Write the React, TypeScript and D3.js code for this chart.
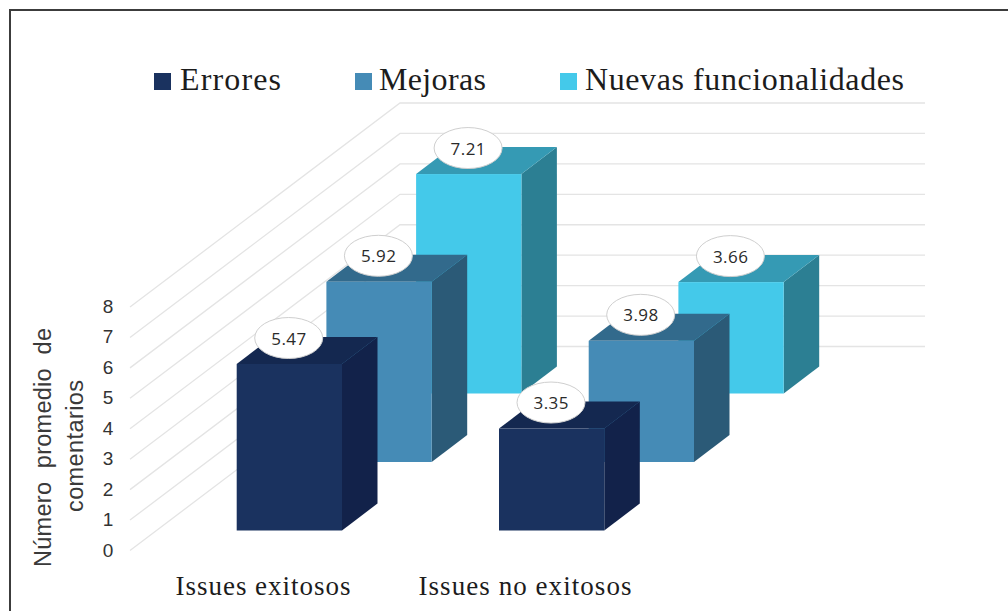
import React from "react";
import * as d3 from "d3";

// Average comment counts per issue outcome and issue type
const outcomes = ["Issues exitosos", "Issues no exitosos"];
const seriesNames = ["Errores", "Mejoras", "Nuevas funcionalidades"];
const errores = [5.47, 3.35];
const mejoras = [5.92, 3.98];
const nuevas = [7.21, 3.66];
const seriesValues = [errores, mejoras, nuevas];
const yTicks = [0, 1, 2, 3, 4, 5, 6, 7, 8];

const front = ["#1a325f", "#458bb6", "#44c9ea"];
const side = ["#12224a", "#2b5a77", "#2c7f93"];
const top = ["#142850", "#326a8c", "#359ab4"];

const W = 1008;
const H = 611;
const SERIF = "'Liberation Serif', serif";
const SANS = "'Liberation Sans', sans-serif";

// Depth projection: one step back along the floor moves up and to the right
const stepX = 89.7;
const stepY = -68.5;
const depthX = 35.5;
const depthY = -27;
const barW = 105.3;
const floorY = 530.5;

const unit = d3.scaleLinear().domain([0, 8]).range([0, -243.5]);
const groupX = d3.scalePoint<number>().domain([0, 1]).range([236.7, 499]);

const pts = (p: [number, number][]) => d3.line()(p) + "Z";

export default function App() {
  const wallBaseY = 346.5;
  const wallLeftX = 400;
  const wallRightX = 925;
  const gridDx = 270;
  const gridDy = 204;

  const bars = seriesValues
    .flatMap((vals, s) =>
      vals.map((v, g) => {
        const x0 = groupX(g)! + s * stepX;
        const y0 = floorY + s * stepY;
        const yt = y0 + unit(v);
        return { s, g, v, x0, y0, yt };
      })
    )
    .sort((a, b) => b.s - a.s || a.g - b.g);

  return (
    <svg
      width={W}
      height={H}
      viewBox={`0 0 ${W} ${H}`}
      style={{ position: "absolute", left: 0, top: 0, background: "#fff" }}
    >
      <rect x={10} y={10} width={1020} height={640} fill="#fff" stroke="#3c3c3c" strokeWidth={2} />

      {yTicks.map((t) => {
        const y = wallBaseY + unit(t);
        return (
          <g key={t}>
            <path
              d={pts([[wallLeftX - gridDx, y + gridDy], [wallLeftX, y], [wallRightX, y]]).slice(0, -1)}
              fill="none"
              stroke="#e4e4e4"
              strokeWidth={1.3}
            />
            <text
              x={108}
              y={y + gridDy - 0.5}
              textAnchor="middle"
              dominantBaseline="central"
              fontFamily={SANS}
              fontSize={19}
              fill="#333"
            >
              {t}
            </text>
          </g>
        );
      })}

      {bars.map((b) => (
        <g key={`${b.s}-${b.g}`}>
          <path
            d={pts([
              [b.x0 + barW, b.yt],
              [b.x0 + barW + depthX, b.yt + depthY],
              [b.x0 + barW + depthX, b.y0 + depthY],
              [b.x0 + barW, b.y0],
            ])}
            fill={side[b.s]}
          />
          <path
            d={pts([
              [b.x0, b.yt],
              [b.x0 + depthX, b.yt + depthY],
              [b.x0 + barW + depthX, b.yt + depthY],
              [b.x0 + barW, b.yt],
            ])}
            fill={top[b.s]}
          />
          <rect x={b.x0} y={b.yt} width={barW} height={b.y0 - b.yt} fill={front[b.s]} />
        </g>
      ))}

      {bars.map((b) => (
        <g key={`label-${b.s}-${b.g}`}>
          <ellipse
            cx={b.x0 + 52}
            cy={b.yt - 26}
            rx={34}
            ry={20.5}
            fill="#fff"
            stroke="#cfcfcf"
            strokeWidth={1}
          />
          <text
            x={b.x0 + 52}
            y={b.yt - 26}
            textAnchor="middle"
            dominantBaseline="central"
            fontFamily="'Open Sans', sans-serif"
            fontSize={17}
            fill="#2a2a2a"
            textLength={35}
          >
            {b.v.toFixed(2)}
          </text>
        </g>
      ))}

      {seriesNames.map((name, i) => {
        const lx = [154, 355, 560][i];
        return (
          <g key={name}>
            <rect x={lx} y={73} width={17} height={17} fill={front[i]} />
            <text
              x={[180, 379, 585][i]}
              y={90}
              fontFamily={SERIF}
              fontSize={32}
              fill="#1c1c1c"
              textLength={[101, 107, 319][i]}
            >
              {name}
            </text>
          </g>
        );
      })}

      {outcomes.map((name, i) => (
        <text
          key={name}
          x={[263, 525][i]}
          y={595}
          textAnchor="middle"
          fontFamily={SERIF}
          fontSize={27}
          fill="#1c1c1c"
          textLength={[175, 213][i]}
        >
          {name}
        </text>
      ))}

      <text
        transform="translate(51,447.5) rotate(-90)"
        textAnchor="middle"
        fontFamily={SANS}
        fontSize={23.5}
        fill="#3a3a3a"
        textLength={239}
        style={{ whiteSpace: "pre" }}
      >
        Número  promedio  de
      </text>
      <text
        transform="translate(83,446) rotate(-90)"
        textAnchor="middle"
        fontFamily={SANS}
        fontSize={23.5}
        fill="#3a3a3a"
        textLength={132}
      >
        comentarios
      </text>
    </svg>
  );
}
